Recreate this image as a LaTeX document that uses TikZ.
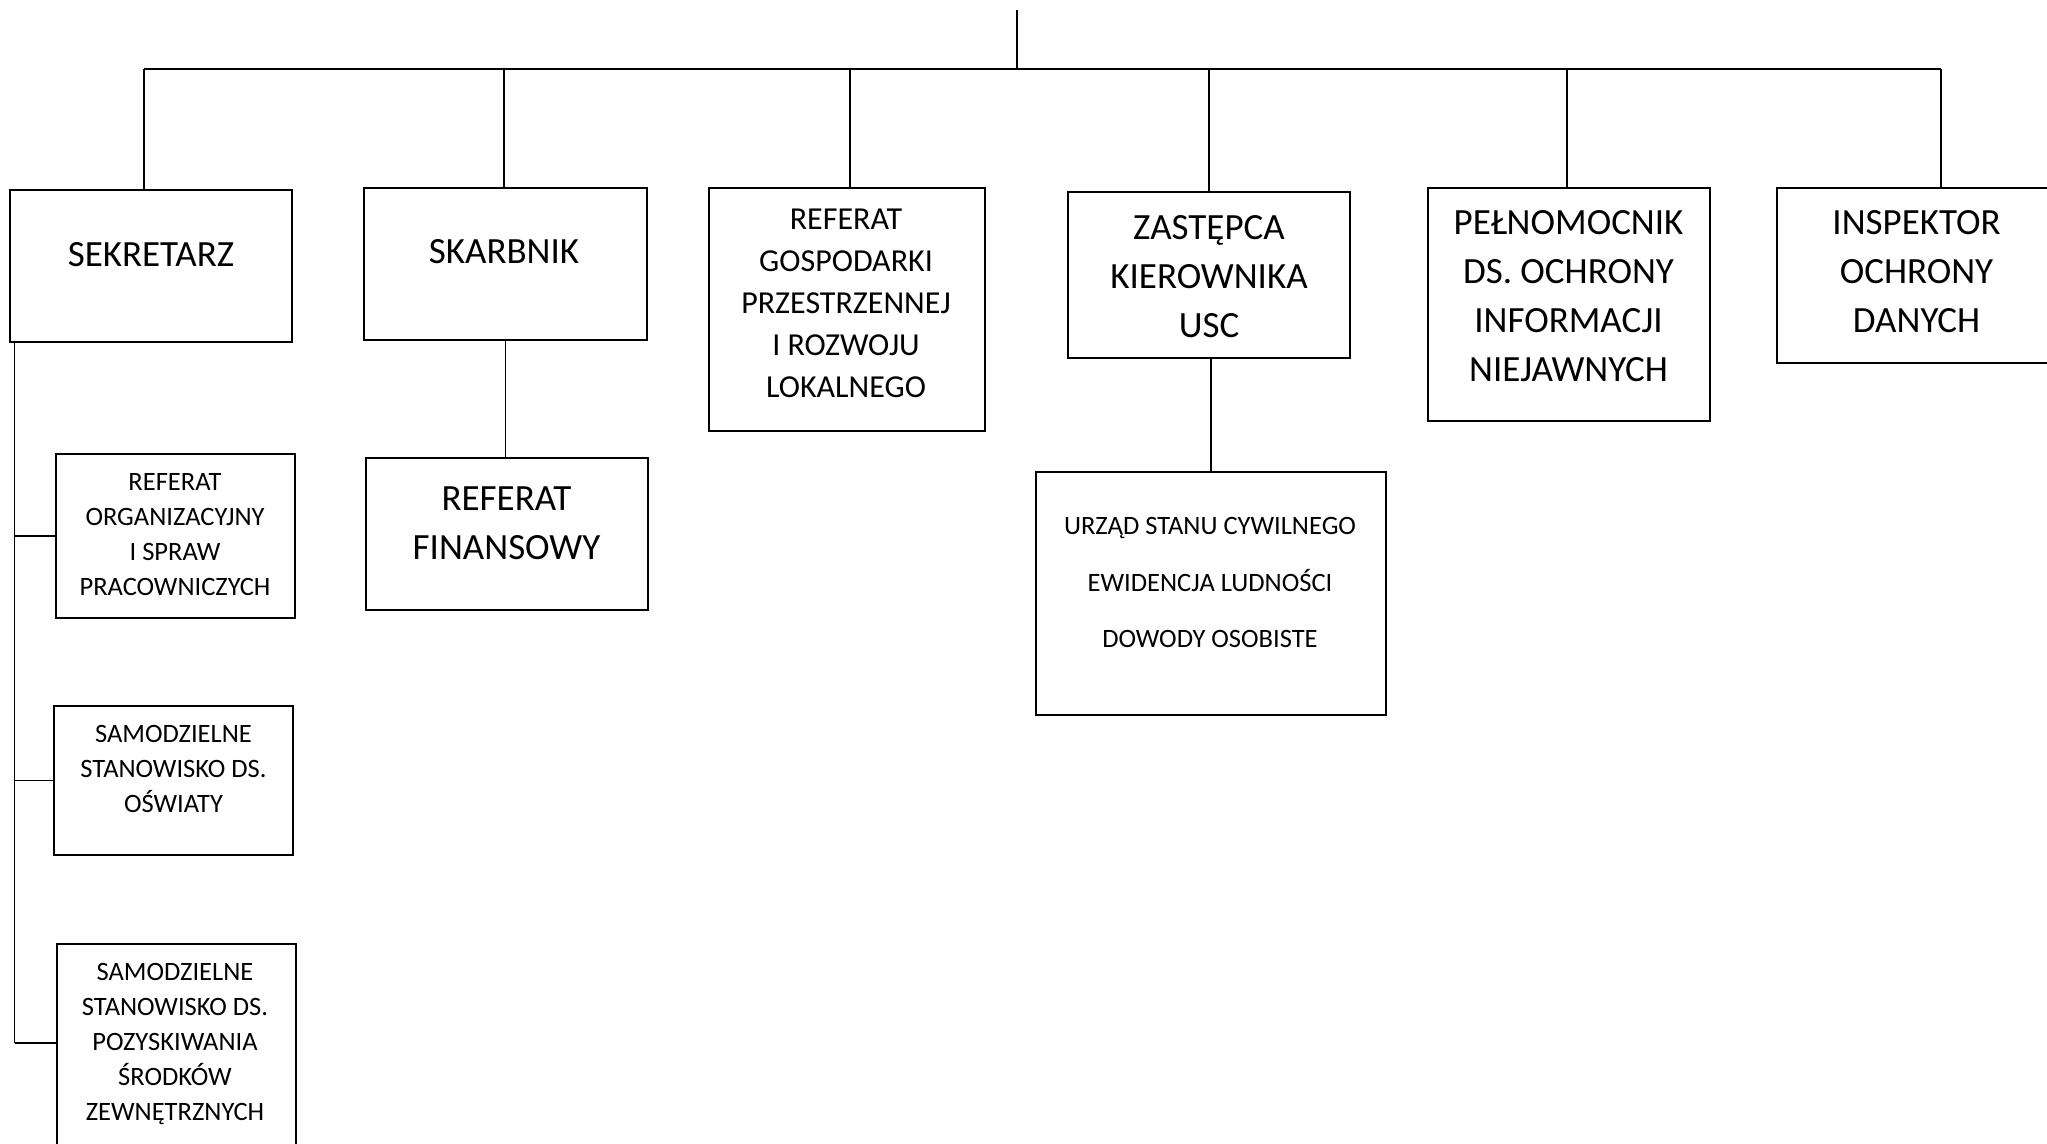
\documentclass[tikz,border=0pt]{standalone}
\usepackage{fontspec}
\setmainfont{Carlito}
\usetikzlibrary{positioning}

\tikzset{
    box/.style={draw, line width=1.2pt, inner sep=0pt},
    link/.style={draw, line width=0.75pt},
    bigtxt/.style={align=center, inner sep=0pt, font=\fontsize{18.5}{24.5}\selectfont},
    midtxt/.style={align=center, inner sep=0pt, font=\fontsize{16}{21}\selectfont},
    smalltxt/.style={align=center, inner sep=0pt, font=\fontsize{13.25}{17.6}\selectfont},
    usctxt/.style={align=center, inner sep=0pt, font=\fontsize{13.25}{28.4}\selectfont}
}

\begin{document}
\begin{tikzpicture}[x=0.5pt, y=-0.5pt]
    \useasboundingbox (0,0) rectangle (2047,1144);

    \node[box, minimum width=141pt, minimum height=76pt] (sekretarz) at (151,266) {};
    \node[box, minimum width=141.5pt, minimum height=76pt] (skarbnik) at (505.5,264) {};
    \node[box, minimum width=138pt, minimum height=121.5pt] (gospodarki) at (847,309.5) {};
    \node[box, minimum width=141pt, minimum height=83pt] (zastepca) at (1209,275) {};
    \node[box, minimum width=141pt, minimum height=116.5pt] (pelnomocnik) at (1569,304.5) {};
    \node[box, minimum width=140pt, minimum height=87.5pt] (inspektor) at (1917,275.5) {};
    \node[box, minimum width=119.5pt, minimum height=82pt] (organizacyjny) at (175.5,536) {};
    \node[box, minimum width=119.5pt, minimum height=74.5pt] (oswiaty) at (173.5,780.5) {};
    \node[box, minimum width=119.5pt, minimum height=108pt] (pozyskiwanie) at (176.5,1052) {};
    \node[box, minimum width=141pt, minimum height=76pt] (finansowy) at (507,534) {};
    \node[box, minimum width=175pt, minimum height=121.5pt] (usc) at (1211,593.5) {};

    \node[bigtxt] (sekretarz-t) at (151,255) {SEKRETARZ};
    \node[bigtxt] (skarbnik-t) at (504,252) {SKARBNIK};
    \node[midtxt] (gospodarki-t) at (846,303.5) {REFERAT\\GOSPODARKI\\PRZESTRZENNEJ\\I ROZWOJU\\LOKALNEGO};
    \node[bigtxt] (zastepca-t) at (1209,277) {ZASTĘPCA\\KIEROWNIKA\\USC};
    \node[bigtxt] (pelnomocnik-t) at (1568.5,296) {PEŁNOMOCNIK\\DS. OCHRONY\\INFORMACJI\\NIEJAWNYCH};
    \node[bigtxt] (inspektor-t) at (1916.5,272) {INSPEKTOR\\OCHRONY\\DANYCH};
    \node[smalltxt] (organizacyjny-t) at (175,534.5) {REFERAT\\ORGANIZACYJNY\\I SPRAW\\PRACOWNICZYCH};
    \node[smalltxt] (oswiaty-t) at (173.5,769) {SAMODZIELNE\\STANOWISKO DS.\\OŚWIATY};
    \node[smalltxt] (pozyskiwanie-t) at (175,1044) {SAMODZIELNE\\STANOWISKO DS.\\POZYSKIWANIA\\ŚRODKÓW\\ZEWNĘTRZNYCH};
    \node[bigtxt] (finansowy-t) at (506.5,523) {REFERAT\\FINANSOWY};
    \node[usctxt] (usc-t) at (1210,582.5) {URZĄD STANU CYWILNEGO\\EWIDENCJA LUDNOŚCI\\DOWODY OSOBISTE};

    \coordinate (top) at (1017,10);
    \coordinate (bus-l) at (144,69);
    \coordinate (bus-r) at (1941,69);
    \coordinate (spine) at (14.5,1043);

    \draw[link] (top) -- (top |- bus-l);
    \draw[link] (bus-l) -- (bus-r);
    \foreach \x/\n in {144/sekretarz, 504/skarbnik, 850/gospodarki, 1209/zastepca, 1567/pelnomocnik, 1941/inspektor} {
        \coordinate (d-\n) at (\x,69);
        \draw[link] (d-\n) -- (d-\n |- \n.north);
    }
    \draw[link] (spine |- sekretarz.south) -- (spine);
    \foreach \n in {organizacyjny, oswiaty} {
        \draw[link] (spine |- \n.west) -- (\n.west);
    }
    \draw[link] (spine) -- (spine -| pozyskiwanie.west);
    \draw[link] (skarbnik.south) -- (skarbnik.south |- finansowy.north);
    \draw[link] (usc.north |- zastepca.south) -- (usc.north);
\end{tikzpicture}
\end{document}
